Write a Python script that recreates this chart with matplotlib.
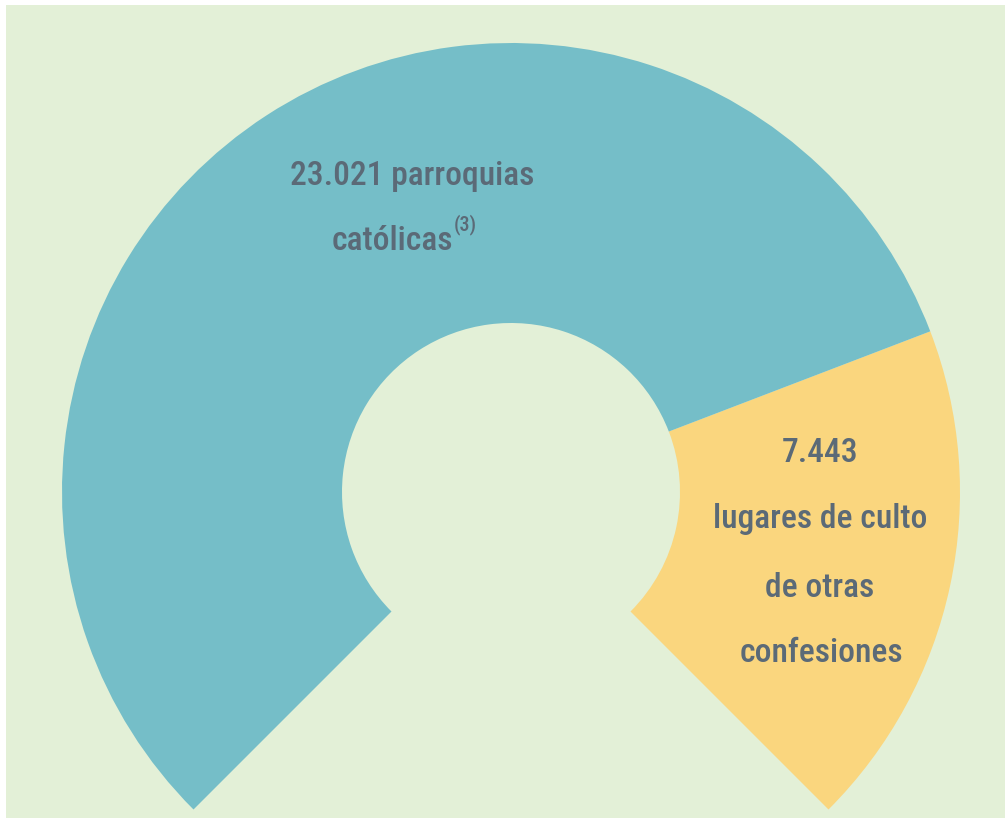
import matplotlib
matplotlib.use("Agg")
import matplotlib.pyplot as plt
from matplotlib.patches import Wedge, Rectangle
from matplotlib import font_manager
from matplotlib.font_manager import FontProperties
import numpy as np

# ---- data ----
categories = ["parroquias católicas", "lugares de culto de otras confesiones"]
values = [23021, 7443]
value_labels = ["23.021", "7.443"]
colors = ["#75bec8", "#fad67e"]

BG = "#e3f0d7"
TXT = "#5b6a77"

# ---- choose a condensed sans font, medium/bold weight ----
def wnum(w):
    if isinstance(w, int):
        return w
    return {"normal": 400, "regular": 400, "book": 400, "medium": 500,
            "semibold": 600, "demibold": 600, "bold": 700}.get(str(w).lower(), 400)

def pick_font():
    prio = ["roboto condensed", "liberation sans narrow", "open sans condensed",
            "noto sans condensed", "dejavu sans condensed", "condensed", "narrow"]
    wpref = {500: 0, 600: 1, 700: 2, 400: 3}
    best = None
    for f in font_manager.fontManager.ttflist:
        fn = f.fname.lower()
        nm = f.name.lower()
        if f.style != "normal" or "italic" in fn or "oblique" in fn:
            continue
        w = wnum(f.weight)
        if w not in wpref:
            continue
        key = nm + " " + fn + " " + str(f.stretch)
        for rank, p in enumerate(prio):
            if all(tok in key for tok in p.split()):
                score = (rank, wpref[w])
                if best is None or score < best[0]:
                    best = (score, f.fname)
                break
    if best:
        return FontProperties(fname=best[1])
    return FontProperties(family="DejaVu Sans")

FP = pick_font()

W, H = 1005, 818
fig = plt.figure(figsize=(W / 100, H / 100), dpi=100, facecolor=BG)
fig.patches.append(Rectangle((0, (H - 5) / H), 1, 5 / H, transform=fig.transFigure,
                             facecolor="white", edgecolor="none"))
fig.patches.append(Rectangle((0, 0), 6 / W, 1, transform=fig.transFigure,
                             facecolor="white", edgecolor="none"))
ax = fig.add_axes([6 / W, 0, (W - 6) / W, (H - 5) / H])
ax.set_xlim(6, W)
ax.set_ylim(0, H - 5)
ax.set_aspect("equal")
ax.axis("off")

cx, cy = 511, H - 492
r_out, r_in = 449, 169
span = 270.0
start = -45.0
total = sum(values)

order = [1, 0]
a = start
for i in order:
    ext = span * values[i] / total
    ax.add_patch(Wedge((cx, cy), r_out, a, a + ext, width=r_out - r_in,
                       facecolor=colors[i], edgecolor="none"))
    a += ext

renderer = fig.canvas.get_renderer()

# (text, centre x, baseline y in image px, target width px)
lines = [
    (f"{value_labels[0]} parroquias", 412, 185, 261),
    ("católicas", 392, 250, 125),
    (value_labels[1], 820, 462, 70),
    ("lugares de culto", 820, 528, 204),
    ("de otras", 820, 597, 104),
    ("confesiones", 821, 662, 153),
]
ratios = []
for s, _, _, tw in lines:
    p = ax.text(0, 0, s, fontproperties=FP, fontsize=20)
    ratios.append(tw / p.get_window_extent(renderer).width)
    p.remove()
fs = 20 * float(np.median(ratios)) * 1.05

objs = []
for s, x, yb, _ in lines:
    objs.append(ax.text(x, H - yb, s, ha="center", va="baseline", fontproperties=FP,
                        fontsize=fs, color=TXT))

# superscript (3) after "católicas"
bb = objs[1].get_window_extent(renderer)
x_end = ax.transData.inverted().transform((bb.x1, bb.y0))[0]
ax.text(x_end + 1, H - 230, "(3)", ha="left", va="baseline",
        fontproperties=FP, fontsize=fs * 0.6, color=TXT)

fig.savefig("out.png", dpi=100, facecolor=BG)
